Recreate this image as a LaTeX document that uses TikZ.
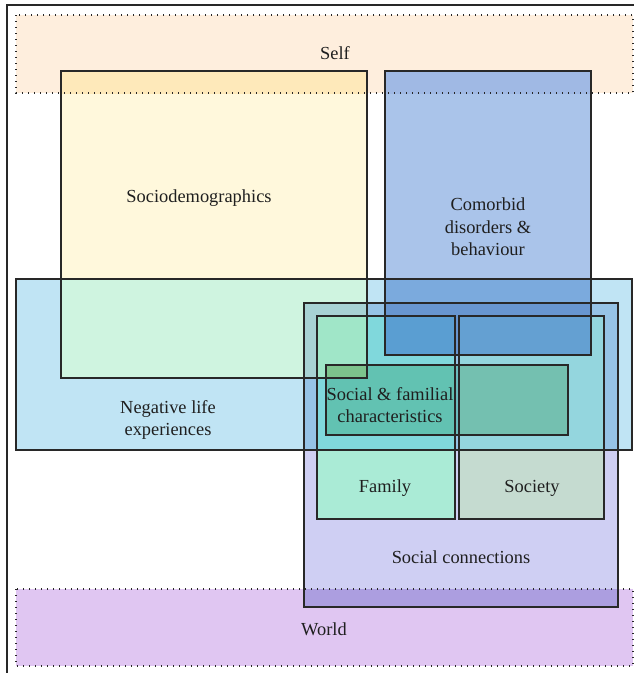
\documentclass[tikz,border=0pt]{standalone}
\usepackage{fontspec}
\setmainfont{Liberation Serif}
% single regions
\definecolor{cS}{RGB}{254,238,221}
\definecolor{cD}{RGB}{255,248,220}
\definecolor{cC}{RGB}{170,196,234}
\definecolor{cN}{RGB}{192,228,244}
\definecolor{cK}{RGB}{207,207,243}
\definecolor{cW}{RGB}{224,198,242}
% overlaps
\definecolor{cSD}{RGB}{254,233,186}
\definecolor{cSC}{RGB}{160,185,228}
\definecolor{cDN}{RGB}{207,244,224}
\definecolor{cCN}{RGB}{123,170,221}
\definecolor{cNK}{RGB}{150,195,230}
\definecolor{cDNK}{RGB}{168,210,212}
\definecolor{cCNK}{RGB}{104,150,208}
\definecolor{cKW}{RGB}{172,158,224}
\definecolor{cF}{RGB}{170,235,214}
\definecolor{cFN}{RGB}{128,216,220}
\definecolor{cFDN}{RGB}{160,230,200}
\definecolor{cFC}{RGB}{90,158,210}
\definecolor{cY}{RGB}{197,219,208}
\definecolor{cYN}{RGB}{148,214,222}
\definecolor{cYC}{RGB}{100,160,210}
\definecolor{cG}{RGB}{108,188,190}
\definecolor{cGF}{RGB}{98,194,178}
\definecolor{cGFD}{RGB}{125,195,140}
\definecolor{cGY}{RGB}{116,192,176}
\definecolor{cline}{RGB}{40,40,40}
\begin{document}
\begin{tikzpicture}[x=1pt,y=-1pt,
  boxline/.style={draw=cline,line width=1.1pt},
  dotline/.style={draw=cline,line width=1.2pt,dash pattern=on 1.2pt off 4.8pt},
  lbl/.style={font=\fontsize{18.4}{22.5}\selectfont,align=center,inner sep=0pt,text=black!88}]
\useasboundingbox (0,0) rectangle (634,673);
\fill[white] (0,0) rectangle (634,673);
% corners of the rectangles
\coordinate (S1) at (16,15);   \coordinate (S2) at (633,93);
\coordinate (D1) at (61,71);   \coordinate (D2) at (367,378);
\coordinate (C1) at (385,71);  \coordinate (C2) at (591,355);
\coordinate (N1) at (16,279);  \coordinate (N2) at (632,450);
\coordinate (K1) at (304,303); \coordinate (K2) at (618,607);
\coordinate (F1) at (317,316); \coordinate (F2) at (455,519);
\coordinate (Y1) at (459,316); \coordinate (Y2) at (604,519);
\coordinate (G1) at (326,365); \coordinate (G2) at (568,435);
\coordinate (W1) at (16,589);  \coordinate (W2) at (633,666);
% outer frame (top and left edges visible)
\coordinate (ftl) at (7,5);
\coordinate (ftr) at (634,5);
\coordinate (fbl) at (7,673);
\draw[cline,line width=1.1pt] (fbl) -- (ftl) -- (ftr);
% single fills
\fill[cS] (S1) rectangle (S2);
\fill[cD] (D1) rectangle (D2);
\fill[cC] (C1) rectangle (C2);
\fill[cN] (N1) rectangle (N2);
\fill[cK] (K1) rectangle (K2);
\fill[cW] (W1) rectangle (W2);
% overlaps
\begin{scope}\clip (S1) rectangle (S2); \fill[cSD] (D1) rectangle (D2); \fill[cSC] (C1) rectangle (C2);\end{scope}
\begin{scope}\clip (N1) rectangle (N2);
  \fill[cDN] (D1) rectangle (D2);
  \fill[cCN] (C1) rectangle (C2);
  \fill[cNK] (K1) rectangle (K2);
  \begin{scope}\clip (K1) rectangle (K2);
    \fill[cDNK] (D1) rectangle (D2);
    \fill[cCNK] (C1) rectangle (C2);
  \end{scope}
\end{scope}
\begin{scope}\clip (W1) rectangle (W2); \fill[cKW] (K1) rectangle (K2);\end{scope}
% family
\fill[cF] (F1) rectangle (F2);
\begin{scope}\clip (F1) rectangle (F2);
  \fill[cFN] (N1) rectangle (N2);
  \begin{scope}\clip (N1) rectangle (N2); \fill[cFDN] (D1) rectangle (D2);\end{scope}
  \fill[cFC] (C1) rectangle (C2);
\end{scope}
% society
\fill[cY] (Y1) rectangle (Y2);
\begin{scope}\clip (Y1) rectangle (Y2);
  \fill[cYN] (N1) rectangle (N2);
  \fill[cYC] (C1) rectangle (C2);
\end{scope}
% social & familial characteristics
\fill[cG] (G1) rectangle (G2);
\begin{scope}\clip (G1) rectangle (G2);
  \fill[cGF] (F1) rectangle (F2);
  \begin{scope}\clip (F1) rectangle (F2); \fill[cGFD] (D1) rectangle (D2);\end{scope}
  \fill[cGY] (Y1) rectangle (Y2);
\end{scope}
% borders
\draw[dotline] (S1) rectangle (S2);
\draw[boxline] (D1) rectangle (D2);
\draw[boxline] (N1) rectangle (N2);
\draw[boxline] (C1) rectangle (C2);
\draw[boxline] (K1) rectangle (K2);
\draw[boxline] (F1) rectangle (F2);
\draw[boxline] (Y1) rectangle (Y2);
\draw[boxline] (G1) rectangle (G2);
\draw[dotline] (W1) rectangle (W2);
% labels
\node[lbl] (self) at (335,53) {Self};
\node[lbl] (socio) at (199,198) {Sociodemographics};
\node[lbl] (comor) at (488,227) {Comorbid\\disorders \&\\behaviour};
\node[lbl] (neg) at (168,420) {Negative life\\experiences};
\node[lbl] (sf) at (390,405) {Social \& familial\\characteristics};
\node[lbl] (fam) at (385,488) {Family};
\node[lbl] (soc) at (532,488) {Society};
\node[lbl] (conn) at (461,557) {Social connections};
\node[lbl] (world) at (324,629) {World};
\end{tikzpicture}
\end{document}
